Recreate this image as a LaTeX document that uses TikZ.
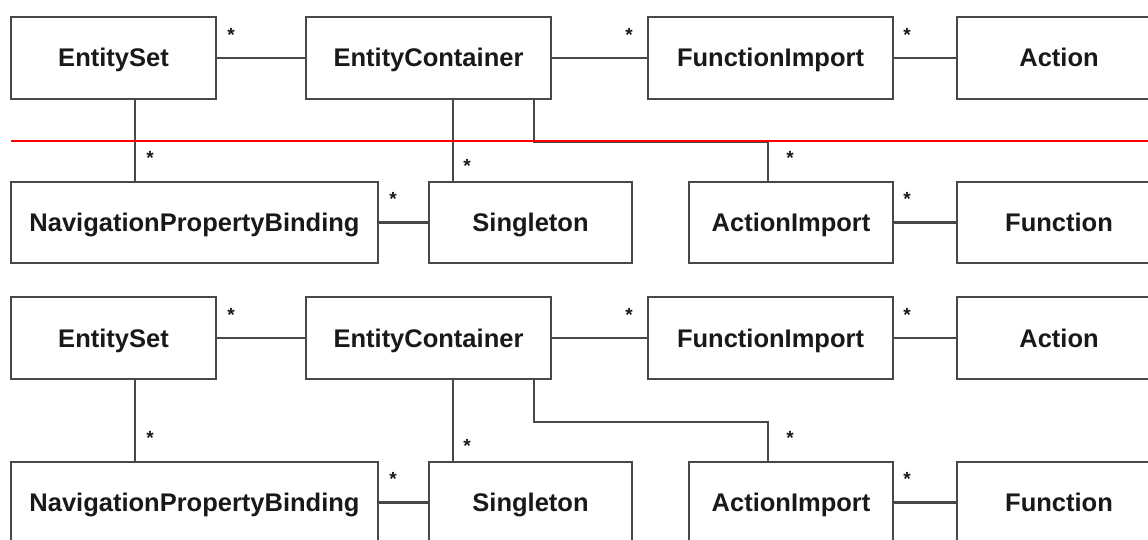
\documentclass[tikz,border=0pt]{standalone}
\usepackage{amsmath}
\usepackage{tikz}
\usepackage{fontspec}
\setmainfont{Liberation Sans}
\definecolor{boxgray}{RGB}{72,72,72}
\definecolor{txtgray}{RGB}{25,25,25}

\begin{document}
\begin{tikzpicture}[x=1pt,y=1pt,yscale=-1,xscale=1,
  box/.style={draw=boxgray,line width=2.4pt,fill=white,inner sep=0pt,minimum height=82pt,
    text height=18.5pt,text depth=0.5pt,
    text=txtgray,font=\fontsize{25.5}{30}\selectfont\bfseries},
  link/.style={draw=boxgray,line width=2.1pt},
  mult/.style={anchor=north,inner sep=0pt,text=txtgray,font=\fontsize{19}{19}\selectfont\bfseries}]
\clip (0,0) rectangle (1148,540);
\fill[white] (0,0) rectangle (1148,540);

%upper copy
\coordinate (bendA) at (0,142);
%Shape: Rectangle
\node [box,minimum width=205pt] (esA) at (113.5,58) {EntitySet};
%Shape: Rectangle
\node [box,minimum width=245pt] (ecA) at (428.5,58) {EntityContainer};
%Shape: Rectangle
\node [box,minimum width=245pt] (fiA) at (770.5,58) {FunctionImport};
%Shape: Rectangle
\node [box,minimum width=204pt] (actA) at (1059,58) {Action};
%Shape: Rectangle
\node [box,minimum width=367pt,minimum height=81pt] (npbA) at (194.5,222.5) {NavigationPropertyBinding};
%Shape: Rectangle
\node [box,minimum width=203pt,minimum height=81pt] (sgA) at (530.5,222.5) {Singleton};
%Shape: Rectangle
\node [box,minimum width=204pt,minimum height=81pt] (aiA) at (791,222.5) {ActionImport};
%Shape: Rectangle
\node [box,minimum width=204pt,minimum height=81pt] (fnA) at (1059,222.5) {Function};

%Straight Lines
\draw [link] (esA.east) -- (ecA.west) ;
%Straight Lines
\draw [link] (ecA.east) -- (fiA.west) ;
%Straight Lines
\draw [link] (fiA.east) -- (actA.west) ;
%Straight Lines
\draw [link] ([xshift=21.5pt]esA.south) -- ([xshift=21.5pt]esA.south |- npbA.north) ;
%Straight Lines
\draw [link] ([xshift=24.5pt]ecA.south) -- ([xshift=24.5pt]ecA.south |- sgA.north) ;
%Straight Lines
\draw [link] ([xshift=105.5pt]ecA.south) |- ([xshift=-23pt]aiA.north |- bendA) -- ([xshift=-23pt]aiA.north) ;
%Straight Lines
\draw [link] (npbA.east) -- (sgA.west) ;
%Straight Lines
\draw [link] (aiA.east) -- (fnA.west) ;
%Straight Lines
\draw [red,line width=2pt] (11,141) -- (1148,141) ;

% Text Node
\node [mult] (m1A) at (231,28) {*};
% Text Node
\node [mult] (m2A) at (629,28) {*};
% Text Node
\node [mult] (m3A) at (907,28) {*};
% Text Node
\node [mult] (m4A) at (150,151) {*};
% Text Node
\node [mult] (m5A) at (467,159) {*};
% Text Node
\node [mult] (m6A) at (790,151) {*};
% Text Node
\node [mult] (m7A) at (393,192) {*};
% Text Node
\node [mult] (m8A) at (907,192) {*};

%lower copy
\coordinate (bendB) at (0,422);
%Shape: Rectangle
\node [box,minimum width=205pt] (esB) at (113.5,338) {EntitySet};
%Shape: Rectangle
\node [box,minimum width=245pt] (ecB) at (428.5,338) {EntityContainer};
%Shape: Rectangle
\node [box,minimum width=245pt] (fiB) at (770.5,338) {FunctionImport};
%Shape: Rectangle
\node [box,minimum width=204pt] (actB) at (1059,338) {Action};
%Shape: Rectangle
\node [box,minimum width=367pt,minimum height=81pt] (npbB) at (194.5,502.5) {NavigationPropertyBinding};
%Shape: Rectangle
\node [box,minimum width=203pt,minimum height=81pt] (sgB) at (530.5,502.5) {Singleton};
%Shape: Rectangle
\node [box,minimum width=204pt,minimum height=81pt] (aiB) at (791,502.5) {ActionImport};
%Shape: Rectangle
\node [box,minimum width=204pt,minimum height=81pt] (fnB) at (1059,502.5) {Function};

%Straight Lines
\draw [link] (esB.east) -- (ecB.west) ;
%Straight Lines
\draw [link] (ecB.east) -- (fiB.west) ;
%Straight Lines
\draw [link] (fiB.east) -- (actB.west) ;
%Straight Lines
\draw [link] ([xshift=21.5pt]esB.south) -- ([xshift=21.5pt]esB.south |- npbB.north) ;
%Straight Lines
\draw [link] ([xshift=24.5pt]ecB.south) -- ([xshift=24.5pt]ecB.south |- sgB.north) ;
%Straight Lines
\draw [link] ([xshift=105.5pt]ecB.south) |- ([xshift=-23pt]aiB.north |- bendB) -- ([xshift=-23pt]aiB.north) ;
%Straight Lines
\draw [link] (npbB.east) -- (sgB.west) ;
%Straight Lines
\draw [link] (aiB.east) -- (fnB.west) ;

% Text Node
\node [mult] (m1B) at (231,308) {*};
% Text Node
\node [mult] (m2B) at (629,308) {*};
% Text Node
\node [mult] (m3B) at (907,308) {*};
% Text Node
\node [mult] (m4B) at (150,431) {*};
% Text Node
\node [mult] (m5B) at (467,439) {*};
% Text Node
\node [mult] (m6B) at (790,431) {*};
% Text Node
\node [mult] (m7B) at (393,472) {*};
% Text Node
\node [mult] (m8B) at (907,472) {*};

\end{tikzpicture}
\end{document}
